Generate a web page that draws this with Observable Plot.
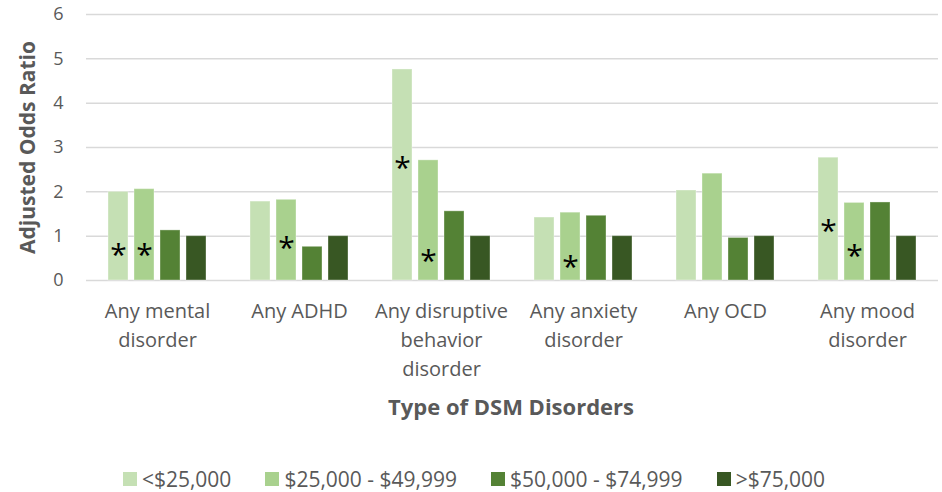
<!DOCTYPE html>
<html>
<head>
<meta charset="utf-8">
<script src="https://cdn.jsdelivr.net/npm/d3@7"></script>
<script src="https://cdn.jsdelivr.net/npm/@observablehq/plot@0.6"></script>
<style>
  html, body { margin: 0; padding: 0; background: #fff; }
  body { width: 942px; height: 492px; overflow: hidden; font-family: "Open Sans", sans-serif; color: #595959; }
  #xtitle { text-align: center; font-weight: bold; font-size: 22px; padding-left: 80px; height: 40px; line-height: 40px; margin-top: -4px; }
  #legend { display: flex; justify-content: center; gap: 34px; font-size: 21px; margin-top: 39px; padding-left: 6px; }
  #legend .item { display: flex; align-items: center; gap: 5px; }
  #legend .sw { width: 14px; height: 14px; display: inline-block; }
</style>
</head>
<body>
<div id="chart"></div>
<div id="xtitle"></div>
<div id="legend"></div>
<script>
// ---- data ----
const categories = ["Any mental disorder", "Any ADHD", "Any disruptive behavior disorder", "Any anxiety disorder", "Any OCD", "Any mood disorder"];
const categoryLabels = ["Any mental\ndisorder", "Any ADHD", "Any disruptive\nbehavior\ndisorder", "Any anxiety\ndisorder", "Any OCD", "Any mood\ndisorder"];
const incomeGroups = ["<$25,000", "$25,000 - $49,999", "$50,000 - $74,999", ">$75,000"];
const under25k   = [2.00, 1.78, 4.76, 1.42, 2.03, 2.77];
const from25to50k = [2.06, 1.82, 2.71, 1.53, 2.41, 1.75];
const from50to75k = [1.13, 0.76, 1.56, 1.46, 0.96, 1.76];
const over75k    = [1.00, 1.00, 1.00, 1.00, 1.00, 1.00];
const yTicks = [0, 1, 2, 3, 4, 5, 6];
// significance markers (*): category index, income group index, height (odds-ratio units)
const sigCategory = [0, 0, 1, 2, 2, 3, 5, 5];
const sigGroup    = [0, 1, 1, 0, 1, 1, 0, 1];
const sigHeight   = [0.64, 0.64, 0.79, 2.60, 0.49, 0.36, 1.18, 0.62];
const colors = ["#c5e0b4", "#a9d18e", "#548235", "#385723"];
const yTitle = "Adjusted Odds Ratio";
const xTitle = "Type of DSM Disorders";

// ---- build table ----
const series = [under25k, from25to50k, from50to75k, over75k];
const rows = categories.flatMap((c, i) => incomeGroups.map((g, j) => ({category: c, group: g, value: series[j][i]})));
const sig = sigCategory.map((ci, k) => ({category: categories[ci], group: incomeGroups[sigGroup[k]], y: sigHeight[k]}));
const labelOf = new Map(categories.map((c, i) => [c, categoryLabels[i]]));

const chart = Plot.plot({
  width: 942,
  height: 390,
  marginLeft: 85,
  marginRight: 4,
  marginTop: 14,
  marginBottom: 110,
  style: {fontFamily: "Open Sans", fontSize: "18px", color: "#595959", background: "white", overflow: "visible"},
  fx: {domain: categories, padding: 0, label: null},
  x: {domain: incomeGroups, paddingInner: 0.225, paddingOuter: 0.82, axis: null},
  y: {domain: [0, 6], label: null},
  color: {domain: incomeGroups, range: colors},
  marks: [
    Plot.gridY(yTicks, {stroke: "#d9d9d9", strokeOpacity: 1, strokeWidth: 1.5}),
    Plot.axisY(yTicks, {tickSize: 0, tickPadding: 23, fontSize: 18, label: null, fill: "#595959"}),
    Plot.axisFx({anchor: "bottom", tickSize: 0, tickPadding: 17, tickFormat: d => labelOf.get(d), lineHeight: 1.45, fontSize: 20, label: null, fill: "#595959"}),
    Plot.barY(rows, {fx: "category", x: "group", y: "value", fill: "group", stroke: "white", strokeOpacity: 0.35, strokeWidth: 1}),
    Plot.text(sig, {fx: "category", x: "group", y: "y", text: () => "*", fontSize: 30, fill: "black", dy: 3}),
    Plot.text([yTitle], {fx: () => categories[0], frameAnchor: "left", textAnchor: "middle", rotate: -90, dx: -58, fontSize: 21, fontWeight: "bold", fill: "#595959"})
  ]
});
document.getElementById("chart").appendChild(chart);
document.getElementById("xtitle").textContent = xTitle;

const legend = document.getElementById("legend");
incomeGroups.forEach((g, i) => {
  const item = document.createElement("div");
  item.className = "item";
  const sw = document.createElement("span");
  sw.className = "sw";
  sw.style.background = colors[i];
  const t = document.createElement("span");
  t.textContent = g;
  item.appendChild(sw);
  item.appendChild(t);
  legend.appendChild(item);
});
</script>
</body>
</html>
